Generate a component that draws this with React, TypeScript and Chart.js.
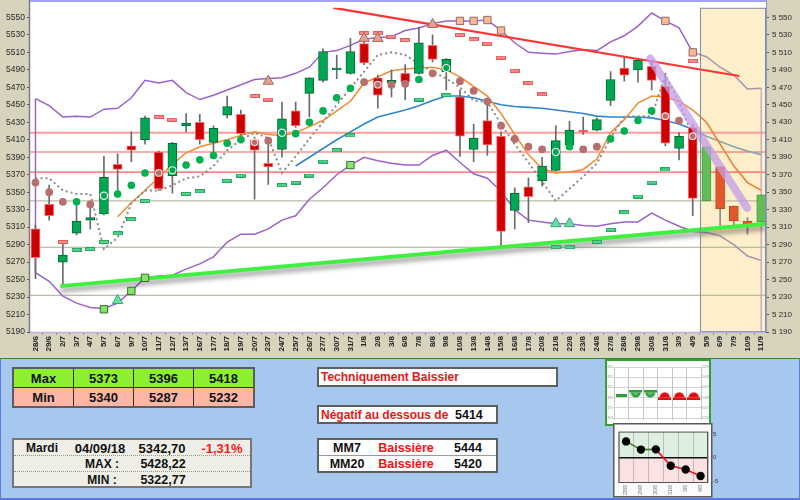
import React, { useEffect, useRef } from 'react';
import { Chart, registerables } from 'chart.js';

Chart.register(...registerables);

const FONT = '"Liberation Sans", Arial, Helvetica, sans-serif';

const dates = ['28/6','29/6','2/7','3/7','4/7','5/7','6/7','9/7','10/7','11/7','12/7','13/7','16/7','17/7','18/7','19/7','20/7','23/7','24/7','25/7','26/7','27/7','30/7','31/7','1/8','2/8','3/8','6/8','7/8','8/8','9/8','10/8','13/8','14/8','15/8','16/8','17/8','20/8','21/8','22/8','23/8','24/8','27/8','28/8','29/8','30/8','31/8','3/9','4/9','5/9','6/9','7/9','10/9','11/9'];
const forecastFrom = 49;

const opens  = [5308,5336,5270,5303,5318,5325,5382,5403,5410,5396,5369,5426,5430,5407,5438,5439,5410,5383,5399,5443,5463,5478,5490,5486,5520,5481,5475,5486,5486,5518,5488,5459,5399,5432,5414,5329,5356,5363,5375,5404,5421,5421,5455,5492,5490,5494,5471,5400,5424,5340,5379,5334,5317,5316];
const highs  = [5312,5358,5291,5337,5332,5391,5394,5419,5437,5397,5407,5440,5439,5426,5460,5444,5413,5411,5453,5453,5481,5514,5507,5526,5529,5484,5490,5496,5539,5530,5503,5467,5428,5451,5419,5355,5366,5390,5426,5431,5436,5435,5488,5505,5503,5501,5486,5418,5428,5402,5379,5334,5321,5347];
const lows   = [5251,5318,5245,5301,5308,5324,5352,5385,5405,5352,5349,5419,5405,5390,5435,5415,5342,5359,5390,5424,5436,5476,5480,5485,5496,5446,5459,5456,5485,5499,5467,5391,5385,5392,5287,5308,5315,5357,5374,5403,5416,5420,5449,5477,5476,5467,5403,5387,5323,5340,5307,5311,5302,5316];
const closes = [5275,5323,5278,5317,5321,5367,5376,5398,5435,5354,5406,5429,5410,5423,5448,5417,5398,5379,5434,5426,5481,5511,5492,5511,5498,5461,5478,5476,5521,5502,5502,5414,5412,5404,5305,5349,5345,5380,5409,5421,5419,5433,5479,5484,5501,5478,5406,5414,5343,5402,5331,5317,5314,5347];

const bollUpper = [5457,5449,5436,5437,5436,5445,5446,5458,5478,5475,5478,5464,5456,5461,5467,5473,5479,5480,5481,5486,5493,5510,5512,5518,5525,5527,5528,5535,5538,5543,5546,5546,5546,5547,5535,5521,5510,5509,5508,5511,5513,5512,5522,5529,5540,5555,5546,5538,5510,5505,5493,5484,5468,5469];
const bollLower = [5258,5248,5231,5223,5218,5217,5223,5237,5252,5254,5255,5262,5268,5276,5293,5302,5302,5308,5318,5323,5342,5355,5370,5381,5390,5386,5383,5381,5381,5392,5398,5384,5371,5366,5351,5330,5318,5316,5314,5314,5312,5311,5314,5316,5316,5326,5318,5311,5305,5304,5300,5290,5277,5272];
const mm20 = [null,null,null,null,null,null,null,null,null,null,null,null,null,null,null,null,null,null,null,5380,5390,5400,5410,5419,5428,5436,5440,5444,5449,5455,5460,5460,5458,5454,5450,5448,5447,5446,5444,5442,5440,5437,5436,5436,5436,5435,5432,5428,5422,5414,5408,5402,5397,5393];
const mm7 = [null,null,null,null,null,null,5322,5338,5352,5367,5382,5395,5402,5406,5410,5415,5419,5416,5415,5418,5425,5432,5443,5454,5475,5482,5489,5491,5492,5493,5490,5482,5471,5460,5440,5416,5393,5377,5372,5373,5376,5388,5418,5433,5452,5460,5459,5454,5444,5430,5405,5380,5361,5352];
const dottedAvg = [5366,5366,5352,5348,5348,5285,5298,5337,5352,5352,5358,5366,5368,5380,5398,5410,5418,5412,5372,5391,5411,5430,5450,5469,5488,5507,5510,5507,5497,5488,5480,5470,5455,5453,5428,5405,5384,5362,5340,5354,5368,5383,5412,5436,5437,5437,5484,5453,5414,null,null,null,null,null];

const sarGreen = [null,null,null,5339,null,5346,5348,5358,5372,null,5375,5381,5387,5392,5406,5410,null,null,5418,5417,5430,5443,5458,5469,null,null,null,null,5479,null,5492,null,null,null,null,null,null,null,5396,5402,null,null,5411,5420,5432,5443,null,null,null,null,null,null,null,null];
const sarBrown = [5361,5350,5339,null,5336,null,null,null,null,5372,null,null,null,null,null,null,5407,5409,null,null,null,null,null,null,5476,5473,5473,5474,null,5486,null,5477,5466,5454,5426,5411,5402,5399,null,null,5399,5402,null,null,null,null,5437,5432,5414,null,null,null,null,null];
const ringIdx = [5,9,10,16,18,25,30,38,46,48];

const dashRed = [null,null,5293,null,null,null,null,null,null,5436,5433,null,null,null,null,null,5460,5456,null,null,null,null,null,null,5532,5532,5528,5524,null,null,null,5530,5525,5520,5504,5489,5475,5462,null,null,null,null,null,null,null,null,null,null,5500,null,null,null,null,null];
const dashGreen = [null,null,null,5284,5285,5293,5303,5319,5340,null,null,5348,5351,null,5363,5369,null,null,5358,5361,5369,5385,5398,5415,null,null,null,null,5456,null,5461,null,null,null,null,null,null,null,5287,5287,null,5293,5307,5327,5345,5361,5376,null,null,null,null,null,null,null];
const triBrown = [null,null,null,null,null,null,null,null,null,null,null,null,null,null,null,null,null,5477,null,null,null,null,null,null,5526,5526,null,null,null,5542,null,null,null,null,null,null,null,null,null,null,null,null,null,null,null,null,null,null,null,null,null,null,null,null];
const triGreen = [null,null,null,null,null,null,5226,null,null,null,null,null,null,null,null,null,null,null,null,null,null,null,null,null,null,null,null,null,null,null,null,null,null,null,null,null,null,null,5314,5314,null,null,null,null,null,null,null,null,null,null,null,null,null,null];
const sqSalmon = [null,null,null,null,null,null,null,null,null,null,null,null,null,null,null,null,null,null,null,null,null,null,null,null,null,null,null,null,null,null,null,5546,5546,5547,5535,null,null,null,null,null,null,null,null,null,null,null,5546,null,5510,null,null,null,null,null];
const sqGreen = [null,null,null,null,null,5216,null,5237,5252,null,null,null,null,null,null,null,null,null,null,null,null,null,null,5381,null,null,null,null,null,null,null,null,null,null,null,null,null,null,null,null,null,null,null,null,null,null,null,null,null,null,null,null,null,null];

const levelHigh = [5418, 5396, 5373];
const levelLow = [5340, 5287, 5232];
const tableMax = [5373, 5396, 5418];
const tableMin = [5340, 5287, 5232];

const resistanceX = [21.75, 51.4];
const resistanceY = [5561, 5483];
const supportX = [1.82, 53.35];
const supportY = [5242.5, 5314];
const projectionX = [44.9, 51.97];
const projectionY = [5503, 5332];

const yTicks = [5190,5210,5230,5250,5270,5290,5310,5330,5350,5370,5390,5410,5430,5450,5470,5490,5510,5530,5550];
const yMin = 5190, yMax = 5561, xMin = -0.4, xMax = 53.35;

const miniDates = ['28/8','29/8','30/8','31/8','3/9','4/9'];
const signalStates = [0, 1, 1, -1, -1, -1];
const signalLevel = [0, 0, 0, 0, 0, 0];
const miniScores = [3.5, 1.75, 1.8, -1.7, -2.5, -3.9];

const pts = (arr: (number | null)[]) => arr.map((v, i) => ({ x: i, y: v }));

function makeCanvas(w: number, h: number, draw: (c: CanvasRenderingContext2D) => void) {
  const c = document.createElement('canvas');
  c.width = w; c.height = h;
  draw(c.getContext('2d') as CanvasRenderingContext2D);
  return c;
}

export default function App() {
  const mainRef = useRef<HTMLCanvasElement>(null);
  const sigRef = useRef<HTMLCanvasElement>(null);
  const scoreRef = useRef<HTMLCanvasElement>(null);

  useEffect(() => {
    document.body.style.margin = '0';
    const dashR = makeCanvas(10, 4, (c) => { c.fillStyle = '#ff8f8f'; c.fillRect(0, 0, 10, 4); c.strokeStyle = '#e65c5c'; c.lineWidth = 1; c.strokeRect(0.5, 0.5, 9, 3); });
    const dashG = makeCanvas(10, 4, (c) => { c.fillStyle = '#52d88c'; c.fillRect(0, 0, 10, 4); c.strokeStyle = '#2aa565'; c.lineWidth = 1; c.strokeRect(0.5, 0.5, 9, 3); });

    const bodyColor = (i: number) => {
      const up = closes[i] >= opens[i];
      if (i >= forecastFrom) return up ? '#62bd55' : '#e2582c';
      return up ? '#00a651' : '#cc0000';
    };
    const bodyBorder = (i: number) => {
      const up = closes[i] >= opens[i];
      if (i >= forecastFrom) return up ? '#4b9b41' : '#c9461f';
      return up ? '#006b33' : '#ff6a6a';
    };

    const lineSeg = (dark: string, light: string) => ({
      borderColor: (c: any) => (c.p0DataIndex >= forecastFrom - 1 ? light : dark),
    });

    const levelSets: any[] = [];
    levelHigh.forEach((v, k) => levelSets.push({
      type: 'line', data: [{ x: xMin, y: v }, { x: xMax, y: v }],
      borderColor: k === 0 ? '#ff9d9d' : '#ff5c5c', borderWidth: k === 0 ? 2 : 1.2,
      pointRadius: 0, order: 60,
    }));
    levelLow.forEach((v) => levelSets.push({
      type: 'line', data: [{ x: xMin, y: v }, { x: xMax, y: v }],
      borderColor: '#a9ad8c', borderWidth: 1, pointRadius: 0, order: 60,
    }));

    const scatter = (data: (number | null)[], extra: any) => ({
      type: 'line', data: pts(data), showLine: false, ...extra,
    });

    const datasets: any[] = [
      ...levelSets,
      { type: 'line', data: [{ x: 0, y: bollUpper[0] }, { x: 0, y: bollLower[0] }], borderColor: '#9966cc', borderWidth: 1.5, pointRadius: 0, order: 45 },
      { type: 'line', data: [{ x: 53, y: bollUpper[53] }, { x: 53, y: yMin }], borderColor: '#c89ac8', borderWidth: 1.2, pointRadius: 0, order: 45 },
      { type: 'line', data: pts(bollUpper), borderWidth: 1.5, pointRadius: 0, tension: 0, segment: lineSeg('#9a62cc', '#ad8fb0'), borderColor: '#9a62cc', order: 40 },
      { type: 'line', data: pts(bollLower), borderWidth: 1.5, pointRadius: 0, tension: 0, segment: lineSeg('#9a62cc', '#ad8fb0'), borderColor: '#9a62cc', order: 40 },
      { type: 'line', data: pts(mm20), borderWidth: 1.6, pointRadius: 0, tension: 0, segment: lineSeg('#2f86d0', '#8aa4b4'), borderColor: '#2f86d0', order: 39 },
      { type: 'line', data: pts(mm7), borderWidth: 1.5, pointRadius: 0, tension: 0, segment: lineSeg('#f28a30', '#f07a3a'), borderColor: '#f28a30', order: 38 },
      { type: 'line', data: pts(dottedAvg), borderWidth: 2, borderDash: [2, 3], borderColor: '#8a8a8a', pointRadius: 0, tension: 0, order: 37 },
      {
        type: 'bar', grouped: false, barThickness: 1,
        data: dates.map((_, i) => ({ x: i, y: [lows[i], highs[i]] })),
        backgroundColor: dates.map((_, i) => (i >= forecastFrom ? '#8a8a8a' : '#6a6a6a')), borderWidth: 0, order: 30,
      },
      {
        type: 'bar', grouped: false, barThickness: 9,
        data: dates.map((_, i) => ({ x: i, y: [Math.min(opens[i], closes[i]), Math.max(opens[i], closes[i])] })),
        backgroundColor: dates.map((_, i) => bodyColor(i)), borderColor: dates.map((_, i) => bodyBorder(i)),
        borderWidth: 1, borderSkipped: false, order: 29,
      },
      { type: 'line', data: supportX.map((x, k) => ({ x, y: supportY[k] })), borderColor: '#3ff03f', borderWidth: 4, pointRadius: 0, order: 20, shadow: true },
      { type: 'line', data: resistanceX.map((x, k) => ({ x, y: resistanceY[k] })), borderColor: '#ff3535', borderWidth: 2.2, pointRadius: 0, order: 20 },
      { type: 'line', data: projectionX.map((x, k) => ({ x, y: projectionY[k] })), borderColor: 'rgba(196,156,232,0.75)', borderWidth: 8, borderCapStyle: 'round', pointRadius: 0, order: 19 },
      scatter(dashRed, { pointStyle: dashR, pointRadius: 5, order: 12 }),
      scatter(dashGreen, { pointStyle: dashG, pointRadius: 5, order: 12 }),
      scatter(triBrown, { pointStyle: 'triangle', pointRadius: 6, pointBackgroundColor: '#e6a08e', pointBorderColor: '#9a6a5a', pointBorderWidth: 1, order: 10 }),
      scatter(triGreen, { pointStyle: 'triangle', pointRadius: 6, pointBackgroundColor: '#62e0a6', pointBorderColor: '#3aa07a', pointBorderWidth: 1, order: 10 }),
      scatter(sqSalmon, { pointStyle: 'rect', pointRadius: 5.2, pointBackgroundColor: '#f8b896', pointBorderColor: '#8e6e60', pointBorderWidth: 1, order: 10 }),
      scatter(sqGreen, { pointStyle: 'rect', pointRadius: 5.2, pointBackgroundColor: '#84e468', pointBorderColor: '#3e6a2e', pointBorderWidth: 1, order: 10 }),
      scatter(sarGreen, {
        pointStyle: 'circle', pointRadius: dates.map((_, i) => (ringIdx.includes(i) ? 3.6 : 3.2)),
        pointBackgroundColor: dates.map((_, i) => (ringIdx.includes(i) ? 'rgba(0,0,0,0)' : '#00b04f')),
        pointBorderColor: dates.map((_, i) => (ringIdx.includes(i) ? '#e8f8ec' : '#00b04f')), pointBorderWidth: 1.2, order: 5,
      }),
      scatter(sarBrown, {
        pointStyle: 'circle', pointRadius: 3.3,
        pointBackgroundColor: '#b86e6e',
        pointBorderColor: dates.map((_, i) => (ringIdx.includes(i) ? '#f4d8d0' : '#b86e6e')), pointBorderWidth: 1.2, order: 5,
      }),
    ];

    const bgPlugin = {
      id: 'bgPanels',
      beforeDraw(chart: any) {
        const { ctx, chartArea: a, width, height } = chart;
        ctx.save();
        ctx.fillStyle = '#ffffff';
        ctx.fillRect(0, 0, width, height);
        ctx.fillStyle = '#d7d3bd';
        ctx.fillRect(0, 0, a.left, height);
        ctx.fillRect(a.right, 0, width - a.right, height);
        ctx.fillRect(a.left, a.bottom, a.right - a.left, height - a.bottom);
        const fx = chart.scales.x.getPixelForValue(forecastFrom - 0.5);
        ctx.fillStyle = '#fcefc9';
        ctx.fillRect(fx, a.top, a.right - fx, a.bottom - a.top);
        ctx.restore();
      },
      afterDatasetsDraw(chart: any) {
        const { ctx, chartArea: a } = chart;
        const fx = chart.scales.x.getPixelForValue(forecastFrom - 0.5);
        ctx.save();
        ctx.strokeStyle = '#7f90ac';
        ctx.lineWidth = 1;
        ctx.strokeRect(Math.round(fx) + 0.5, a.top + 0.5, a.right - Math.round(fx) - 1, a.bottom - a.top - 1);
        ctx.strokeStyle = '#a3a3f2';
        ctx.lineWidth = 2;
        ctx.beginPath(); ctx.moveTo(a.left - 1, 1); ctx.lineTo(a.right, 1); ctx.stroke();
        ctx.strokeStyle = '#bfb0e6';
        ctx.lineWidth = 1.5;
        ctx.beginPath(); ctx.moveTo(a.left, a.bottom + 0.5); ctx.lineTo(a.right, a.bottom + 0.5); ctx.stroke();
        ctx.strokeStyle = '#7c7c8c';
        ctx.lineWidth = 1.5;
        ctx.beginPath(); ctx.moveTo(a.left - 0.5, 0); ctx.lineTo(a.left - 0.5, a.bottom); ctx.stroke();
        ctx.strokeStyle = '#8f9cb2';
        ctx.lineWidth = 1;
        ctx.beginPath(); ctx.moveTo(a.right + 0.5, 0); ctx.lineTo(a.right + 0.5, a.bottom); ctx.stroke();
        ctx.restore();
      },
    };

    const shadowPlugin = {
      id: 'lineShadow',
      beforeDatasetDraw(chart: any, args: any) {
        if (chart.data.datasets[args.index].shadow) {
          const ctx = chart.ctx;
          ctx.save();
          ctx.shadowColor = 'rgba(0,0,0,0.45)';
          ctx.shadowBlur = 5;
          ctx.shadowOffsetY = 4;
        }
      },
      afterDatasetDraw(chart: any, args: any) {
        if (chart.data.datasets[args.index].shadow) chart.ctx.restore();
      },
    };

    const main = new Chart(mainRef.current as HTMLCanvasElement, {
      type: 'line',
      data: { datasets },
      options: {
        responsive: false,
        animation: false,
        events: [],
        layout: { padding: { top: 2, left: 0, right: 0, bottom: 0 } },
        plugins: { legend: { display: false }, tooltip: { enabled: false } },
        scales: {
          x: {
            type: 'linear', min: xMin, max: xMax, bounds: 'data', offset: false,
            afterBuildTicks: (s: any) => { s.ticks = dates.map((_, i) => ({ value: i })); },
            afterFit: (s: any) => { s.height = 26; },
            ticks: {
              autoSkip: false, minRotation: 90, maxRotation: 90, padding: 1, color: '#222',
              font: { family: FONT, size: 8, weight: 'bold' },
              callback: (v: any) => dates[v] ?? '',
            },
            grid: { drawOnChartArea: false, drawTicks: true, tickLength: 3, color: '#8a8a8a' },
            border: { display: false },
          },
          y: {
            type: 'linear', position: 'left', min: yMin, max: yMax,
            afterBuildTicks: (s: any) => { s.ticks = yTicks.map((v) => ({ value: v })); },
            afterFit: (s: any) => { s.width = 30; },
            ticks: { padding: 2, color: '#2a2a2a', font: { family: FONT, size: 8.5 }, callback: (v: any) => String(v) },
            grid: { drawOnChartArea: false, drawTicks: true, tickLength: 3, color: '#555' },
            border: { display: false },
          },
          y2: {
            type: 'linear', position: 'right', min: yMin, max: yMax,
            afterBuildTicks: (s: any) => { s.ticks = yTicks.map((v) => ({ value: v })); },
            afterFit: (s: any) => { s.width = 34; },
            ticks: {
              padding: 3, color: '#2a2a2a', font: { family: FONT, size: 8 },
              callback: (v: any) => `${Math.floor(v / 1000)} ${String(v % 1000).padStart(3, '0')}`,
            },
            grid: { drawOnChartArea: false, drawTicks: true, tickLength: 3, color: '#555' },
            border: { display: false },
          },
        },
      } as any,
      plugins: [bgPlugin, shadowPlugin],
    } as any);

    const bowl = makeCanvas(13, 10, (c) => {
      c.fillStyle = '#2e9e3e'; c.fillRect(0, 0, 13, 2.5);
      c.beginPath(); c.arc(6.5, 2.5, 5, 0, Math.PI); c.fill();
      c.fillStyle = '#5cc46a'; c.beginPath(); c.arc(6.5, 3, 2.2, 0, Math.PI); c.fill();
    });
    const dome = makeCanvas(13, 10, (c) => {
      c.fillStyle = '#e01010'; c.fillRect(0, 7.5, 13, 2.5);
      c.beginPath(); c.arc(6.5, 7.5, 5.2, Math.PI, 2 * Math.PI); c.fill();
    });
    const flat = makeCanvas(11, 3, (c) => { c.fillStyle = '#2e9e3e'; c.fillRect(0, 0, 11, 3); });

    const sig = new Chart(sigRef.current as HTMLCanvasElement, {
      type: 'line',
      data: {
        labels: miniDates,
        datasets: [{
          data: signalLevel, showLine: false, pointRadius: 5,
          pointStyle: signalStates.map((s) => (s === 1 ? bowl : s === -1 ? dome : flat)),
        }],
      },
      options: {
        responsive: false, animation: false, events: [],
        layout: { padding: { top: 3, bottom: 0 } },
        plugins: { legend: { display: false }, tooltip: { enabled: false } },
        scales: {
          x: {
            type: 'category', offset: true,
            grid: { offset: true, color: '#c4c4c4', tickLength: 2 },
            ticks: { display: false },
            afterFit: (s: any) => { s.height = 4; },
            border: { display: false },
          },
          y: {
            min: -4.5, max: 5.5, position: 'left',
            ticks: { stepSize: 1, font: { size: 3.5, family: FONT }, color: '#999', padding: 0, callback: (v: any) => String(5400 + v * 10) },
            grid: { color: '#d2d2d2', tickLength: 1 },
            afterFit: (s: any) => { s.width = 7; },
            border: { display: false },
          },
          y2: {
            min: -4.5, max: 5.5, position: 'right',
            ticks: { stepSize: 1, font: { size: 3.5, family: FONT }, color: '#999', padding: 0, callback: (v: any) => String(5400 + v * 10) },
            grid: { drawOnChartArea: false, tickLength: 1 },
            afterFit: (s: any) => { s.width = 8; },
            border: { display: false },
          },
        },
      } as any,
    } as any);

    const scoreBg = {
      id: 'scoreBg',
      beforeDraw(chart: any) {
        const { ctx, chartArea: a } = chart;
        ctx.save();
        ctx.fillStyle = '#fbfbfb';
        ctx.fillRect(0, 0, 99, 74);
        const z = chart.scales.y.getPixelForValue(0);
        ctx.fillStyle = '#dcefe0';
        ctx.fillRect(a.left, a.top, a.right - a.left, z - a.top);
        ctx.fillStyle = '#fbe1e1';
        ctx.fillRect(a.left, z, a.right - a.left, a.bottom - z);
        ctx.restore();
      },
      beforeDatasetsDraw(chart: any) {
        const { ctx, chartArea: a } = chart;
        const z = chart.scales.y.getPixelForValue(0);
        ctx.save();
        ctx.strokeStyle = '#111';
        ctx.lineWidth = 1.5;
        ctx.beginPath(); ctx.moveTo(a.left, z); ctx.lineTo(a.right, z); ctx.stroke();
        ctx.strokeStyle = '#555';
        ctx.lineWidth = 1;
        ctx.strokeRect(a.left + 0.5, a.top + 0.5, a.right - a.left - 1, a.bottom - a.top - 1);
        ctx.restore();
      },
      afterDraw(chart: any) {
        const ctx = chart.ctx;
        ctx.save();
        ctx.strokeStyle = '#5a5a5a';
        ctx.lineWidth = 1.5;
        ctx.strokeRect(0.75, 0.75, 98, 73);
        ctx.restore();
      },
    };

    const score = new Chart(scoreRef.current as HTMLCanvasElement, {
      type: 'line',
      data: {
        labels: miniDates,
        datasets: [{
          data: miniScores, borderWidth: 1.6, tension: 0,
          pointRadius: 3.4, pointBackgroundColor: '#000', pointBorderColor: '#000',
          borderColor: '#4a7a2a',
          segment: { borderColor: (c: any) => (c.p1.parsed.y < 0 ? '#ee1515' : '#4c7a2c') },
        }],
      },
      options: {
        responsive: false, animation: false, events: [],
        layout: { padding: { left: 2, top: 2, right: 0, bottom: 0 } },
        plugins: { legend: { display: false }, tooltip: { enabled: false } },
        scales: {
          x: {
            type: 'category', offset: true,
            grid: { offset: true, color: '#bdbdbd', drawTicks: false },
            ticks: { autoSkip: false, minRotation: 90, maxRotation: 90, padding: 2, font: { size: 5, family: FONT }, color: '#777' },
            afterFit: (s: any) => { s.height = 16; },
            border: { display: false },
          },
          y: {
            position: 'right', min: -5.4, max: 5.6,
            afterBuildTicks: (s: any) => { s.ticks = [{ value: -5 }, { value: 0 }, { value: 5 }]; },
            ticks: { padding: 5, font: { size: 6, family: FONT }, color: '#333' },
            grid: { drawOnChartArea: false, drawTicks: false },
            afterFit: (s: any) => { s.width = 21; },
            border: { display: false },
          },
        },
      } as any,
      plugins: [scoreBg],
    } as any);

    return () => { main.destroy(); sig.destroy(); score.destroy(); };
  }, []);

  const abs = (x: number, y: number, extra: any = {}) => ({
    position: 'absolute' as const, left: x, top: y, transform: 'translate(-50%, -50%)', whiteSpace: 'nowrap' as const, ...extra,
  });

  const cell = (txt: any, bg: string, w: number, key: string) => (
    <td key={key} style={{ width: w, height: 18, background: bg, border: '1px solid #333', textAlign: 'center', padding: 0, fontWeight: 'bold', fontSize: 13, color: '#111' }}>{txt}</td>
  );

  return (
    <div style={{ position: 'relative', width: 800, height: 500, overflow: 'hidden', fontFamily: FONT, background: '#a6c8ee' }}>
      <canvas ref={mainRef} width={800} height={358} style={{ position: 'absolute', left: 0, top: 0, display: 'block' }} />
      <div style={{ position: 'absolute', left: 0, top: 358, width: 800, height: 142, boxSizing: 'border-box', background: '#a6c8ee', borderTop: '1px solid #2f8a2f', borderLeft: '1px solid #5a78e6', borderRight: '1px solid #5a78e6', borderBottom: '2px solid #5a78e6' }} />

      <table style={{ position: 'absolute', left: 12, top: 367, borderCollapse: 'collapse', border: '2px solid #5c5c5c', fontFamily: FONT }}>
        <tbody>
          <tr>
            {cell('Max', '#8cf02e', 59, 'a')}
            {tableMax.map((v, k) => cell(v, '#8cf02e', 59, 'h' + k))}
          </tr>
          <tr>
            {cell('Min', '#fdb5a5', 59, 'b')}
            {tableMin.map((v, k) => cell(v, '#fdb5a5', 59, 'l' + k))}
          </tr>
        </tbody>
      </table>

      <div style={{ position: 'absolute', left: 12, top: 438, width: 240, height: 50, boxSizing: 'border-box', background: '#efeee6', border: '2px solid #767676' }}>
        <div style={{ position: 'absolute', left: 0, right: 0, top: 15, borderTop: '1px dotted #8f9a7e' }} />
        <div style={{ position: 'absolute', left: 0, right: 0, top: 31, borderTop: '1px dotted #8f9a7e' }} />
        <span style={abs(28, 8, { fontWeight: 'bold', fontSize: 12, color: '#111' })}>Mardi</span>
        <span style={abs(86, 8, { fontWeight: 'bold', fontSize: 13, color: '#111' })}>04/09/18</span>
        <span style={abs(148, 8, { fontWeight: 'bold', fontSize: 13, color: '#111' })}>5342,70</span>
        <span style={abs(208, 8, { fontWeight: 'bold', fontSize: 13, color: '#ff1a1a' })}>-1,31%</span>
        <span style={abs(88, 24, { fontWeight: 'bold', fontSize: 12, color: '#111' })}>MAX :</span>
        <span style={abs(149, 24, { fontWeight: 'bold', fontSize: 12.5, color: '#111' })}>5428,22</span>
        <span style={abs(88, 40, { fontWeight: 'bold', fontSize: 12, color: '#111' })}>MIN :</span>
        <span style={abs(149, 40, { fontWeight: 'bold', fontSize: 12.5, color: '#111' })}>5322,77</span>
      </div>

      <div style={{ position: 'absolute', left: 317, top: 367, width: 241, height: 20, boxSizing: 'border-box', background: '#fff', border: '2px solid #5e5e5e' }}>
        <span style={{ position: 'absolute', left: 2, top: 1, fontWeight: 'bold', fontSize: 12, color: '#f01414', whiteSpace: 'nowrap' }}>Techniquement Baissier</span>
      </div>

      <div style={{ position: 'absolute', left: 317, top: 405, width: 181, height: 19, boxSizing: 'border-box', background: '#fff', border: '2px solid #5e5e5e' }}>
        <span style={{ position: 'absolute', left: 2, top: 1, fontWeight: 'bold', fontSize: 12, color: '#f01414', whiteSpace: 'nowrap' }}>Négatif au dessous de</span>
        <span style={{ position: 'absolute', left: 136, top: 1, fontWeight: 'bold', fontSize: 12.5, color: '#111' }}>5414</span>
      </div>

      <div style={{ position: 'absolute', left: 317, top: 438, width: 181, height: 35, boxSizing: 'border-box', background: '#fff', border: '2px solid #5e5e5e' }}>
        <div style={{ position: 'absolute', left: 0, right: 0, top: 15, borderTop: '1px solid #9a9a9a' }} />
        <span style={abs(28, 8, { fontWeight: 'bold', fontSize: 12.5, color: '#111' })}>MM7</span>
        <span style={abs(87, 8, { fontWeight: 'bold', fontSize: 12.5, color: '#f01414' })}>Baissière</span>
        <span style={abs(149, 8, { fontWeight: 'bold', fontSize: 12.5, color: '#111' })}>5444</span>
        <span style={abs(28, 24, { fontWeight: 'bold', fontSize: 12.5, color: '#111' })}>MM20</span>
        <span style={abs(87, 24, { fontWeight: 'bold', fontSize: 12.5, color: '#f01414' })}>Baissière</span>
        <span style={abs(149, 24, { fontWeight: 'bold', fontSize: 12.5, color: '#111' })}>5420</span>
      </div>

      <div style={{ position: 'absolute', left: 605, top: 359, width: 106, height: 67, boxSizing: 'border-box', background: '#fff', border: '2px solid #33a033' }}>
        <canvas ref={sigRef} width={102} height={63} style={{ display: 'block' }} />
      </div>
      <canvas ref={scoreRef} width={116} height={76} style={{ position: 'absolute', left: 613, top: 423, display: 'block' }} />
    </div>
  );
}
